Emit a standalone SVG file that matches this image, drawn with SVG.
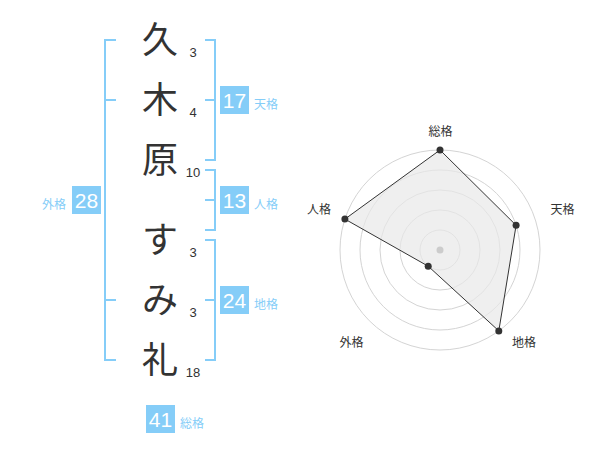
<svg xmlns="http://www.w3.org/2000/svg" width="600" height="470" viewBox="0 0 600 470">
<style>
.ch{font-family:"Noto Sans CJK JP","Noto Sans",sans-serif;font-size:36px;fill:#333;text-anchor:middle}
.st{font-family:"Liberation Sans",Arial,sans-serif;font-size:13px;fill:#333;text-anchor:middle}
.br{fill:none;stroke:#85cdf8;stroke-width:2}
.box{fill:#85cdf8}
.bn{font-family:"Liberation Sans",Arial,sans-serif;font-size:21px;fill:#fff;text-anchor:middle}
.bl{font-family:"Noto Sans CJK JP",sans-serif;font-size:12px;fill:#85cdf8}
.ring{fill:none;stroke:#d4d4d4;stroke-width:1}
.rl{font-family:"Noto Sans CJK JP",sans-serif;font-size:12px;fill:#333;text-anchor:middle}
.dot{fill:#333}
</style>
<rect width="600" height="470" fill="#fff"/>
<g id="names">
<g id="c1"><text class="ch" x="160" y="53">久</text><text class="st" x="193" y="57">3</text></g>
<g id="c2"><text class="ch" x="160" y="113">木</text><text class="st" x="193" y="117">4</text></g>
<g id="c3"><text class="ch" x="160" y="173">原</text><text class="st" x="193" y="177">10</text></g>
<g id="c4"><text class="ch" x="160" y="253">す</text><text class="st" x="193" y="257">3</text></g>
<g id="c5"><text class="ch" x="160" y="313">み</text><text class="st" x="193" y="317">3</text></g>
<g id="c6"><text class="ch" x="160" y="373">礼</text><text class="st" x="193" y="377">18</text></g>
</g>
<g id="connectors">
<path class="br" d="M116,40H105V360H116M105,100H116M105,300H116"/>
<path class="br" d="M205,40H215V160H205M205,100H215"/>
<path class="br" d="M205,170H215V230H205M205,200H215"/>
<path class="br" d="M205,240H215V360H205M205,300H215"/>
</g>
<g id="tenkaku"><rect class="box" x="220" y="86" width="29" height="28"/><text class="bn" x="234.5" y="107.5">17</text><text class="bl" x="254" y="108.5">天格</text></g>
<g id="jinkaku"><rect class="box" x="220" y="186" width="29" height="28"/><text class="bn" x="234.5" y="207.5">13</text><text class="bl" x="254" y="208.5">人格</text></g>
<g id="chikaku"><rect class="box" x="220" y="286" width="29" height="28"/><text class="bn" x="234.5" y="307.5">24</text><text class="bl" x="254" y="308.5">地格</text></g>
<g id="gaikaku"><rect class="box" x="72" y="186" width="29" height="28"/><text class="bn" x="86.5" y="207.5">28</text><text class="bl" x="66" y="208.5" text-anchor="end">外格</text></g>
<g id="soukaku"><rect class="box" x="146" y="405" width="29" height="28"/><text class="bn" x="160.5" y="426.5">41</text><text class="bl" x="180" y="427.5">総格</text></g>
<g id="radar">
<circle class="ring" cx="440" cy="250" r="20"/>
<circle class="ring" cx="440" cy="250" r="40"/>
<circle class="ring" cx="440" cy="250" r="60"/>
<circle class="ring" cx="440" cy="250" r="80"/>
<circle class="ring" cx="440" cy="250" r="100"/>
<polygon points="440,150 516.1,225.3 498.8,330.9 428.2,266.2 344.9,219.1" fill="#e8e8e8" fill-opacity="0.7" stroke="#333" stroke-width="1"/>
<circle cx="440" cy="250" r="3.5" fill="#ccc"/>
<circle class="dot" cx="440" cy="150" r="3.5"/>
<circle class="dot" cx="516.1" cy="225.3" r="3.5"/>
<circle class="dot" cx="498.8" cy="330.9" r="3.5"/>
<circle class="dot" cx="428.2" cy="266.2" r="3.5"/>
<circle class="dot" cx="344.9" cy="219.1" r="3.5"/>
<text class="rl" x="440.5" y="136">総格</text>
<text class="rl" x="562.5" y="213.5">天格</text>
<text class="rl" x="524" y="346.5">地格</text>
<text class="rl" x="351.5" y="346.5">外格</text>
<text class="rl" x="319" y="213.5">人格</text>
</g>
</svg>
